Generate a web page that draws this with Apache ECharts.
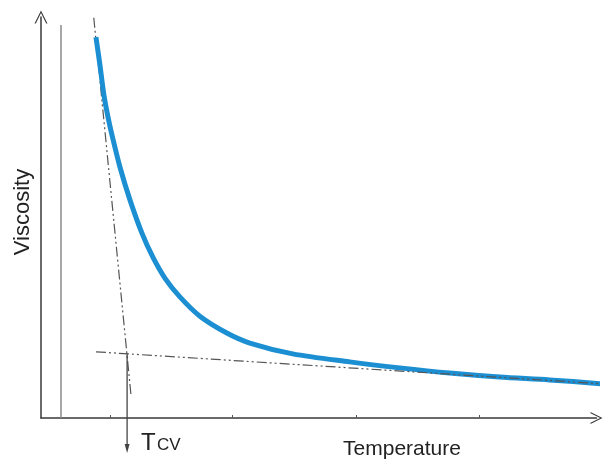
<!DOCTYPE html>
<html>
<head>
<meta charset="utf-8">
<script src="https://cdn.jsdelivr.net/npm/echarts@6/dist/echarts.min.js"></script>
<style>
  html, body { margin: 0; padding: 0; background: #fff; }
  #chart { width: 604px; height: 463px; }
</style>
</head>
<body>
<div id="chart"></div>
<script>
// temperature / viscosity in arbitrary units (0..100 on both axes)
const viscosityCurve = [
  [9.89, 95.0], [10.61, 88.0], [11.33, 80.5], [12.05, 75.1], [12.77, 70.6],
  [14.21, 62.6], [16.01, 54.4], [18.17, 46.1], [20.14, 40.1], [22.3, 34.9],
  [25.0, 30.2], [28.6, 25.4], [33.45, 21.2], [37.59, 18.7], [45.32, 16.0],
  [55.58, 14.0], [64.57, 12.5], [73.56, 11.2], [82.55, 10.2], [91.55, 9.5],
  [101.26, 8.5]
];
const steepTangent = [[9.5, 99.8], [16.2, 5.7]];
const flatTangent = [[9.9, 16.5], [101.3, 8.5]];
const referenceLine = [[3.6, 0], [3.6, 98.0]];
const tcvArrow = [[15.5, 16.0], [15.5, -7.6]];
const xTickValues = [12.4, 34.5, 56.8, 78.9];

const chart = echarts.init(document.getElementById('chart'));

const chevron = 'path://M5,0 L10,10 L9,10 L5,2 L1,10 L0,10 Z';
const dashDot = [10, 3, 2, 3, 2, 3];

chart.setOption({
  animation: false,
  grid: {
    left: 41,
    right: 7.5,
    top: 17,
    bottom: 45,
    containLabel: false,
    outerBoundsMode: 'none'
  },
  xAxis: {
    type: 'value',
    min: 0,
    max: 100,
    splitLine: { show: false },
    axisLabel: { show: false },
    axisLine: {
      show: true,
      symbol: ['none', chevron],
      symbolSize: [12, 13],
      lineStyle: { color: '#3a3a3a', width: 1.5 }
    },
    axisTick: {
      show: true,
      inside: true,
      length: 3,
      customValues: xTickValues,
      lineStyle: { color: '#555', width: 1 }
    }
  },
  yAxis: {
    type: 'value',
    min: 0,
    max: 100,
    splitLine: { show: false },
    axisLabel: { show: false },
    axisTick: { show: false },
    axisLine: {
      show: true,
      symbol: ['none', chevron],
      symbolSize: [13, 21],
      lineStyle: { color: '#3a3a3a', width: 1.5 }
    }
  },
  series: [
    {
      type: 'line',
      data: referenceLine,
      symbol: 'none',
      clip: false,
      lineStyle: { color: '#8a8a8a', width: 1.5 }
    },
    {
      type: 'line',
      data: steepTangent,
      symbol: 'none',
      clip: false,
      lineStyle: { color: '#555', width: 1.2, type: dashDot }
    },
    {
      type: 'line',
      data: viscosityCurve,
      symbol: 'none',
      smooth: 0.3,
      clip: false,
      lineStyle: { color: '#1c8fd2', width: 5 }
    },
    {
      type: 'line',
      data: flatTangent,
      symbol: 'none',
      clip: false,
      lineStyle: { color: '#555', width: 1.2, type: dashDot }
    },
    {
      type: 'line',
      data: [
        { value: tcvArrow[0], symbol: 'none' },
        { value: tcvArrow[1], symbol: 'triangle', symbolRotate: 180, symbolSize: [5, 9] }
      ],
      showSymbol: true,
      clip: false,
      itemStyle: { color: '#444' },
      lineStyle: { color: '#444', width: 1.3 }
    }
  ],
  graphic: [
    {
      type: 'text',
      x: 23,
      y: 212,
      rotation: Math.PI / 2,
      style: {
        text: 'Viscosity',
        font: '22px "Liberation Sans", Arial, sans-serif',
        fill: '#222',
        align: 'center',
        verticalAlign: 'middle'
      }
    },
    {
      type: 'text',
      x: 402,
      y: 449,
      style: {
        text: 'Temperature',
        font: '21px "Liberation Sans", Arial, sans-serif',
        fill: '#222',
        align: 'center',
        verticalAlign: 'middle'
      }
    },
    {
      type: 'text',
      x: 141,
      y: 443,
      style: {
        text: 'T',
        font: '24px "Liberation Sans", Arial, sans-serif',
        fill: '#222',
        align: 'left',
        verticalAlign: 'middle'
      }
    },
    {
      type: 'text',
      x: 157,
      y: 445,
      style: {
        text: 'CV',
        font: '17px "Liberation Sans", Arial, sans-serif',
        fill: '#222',
        align: 'left',
        verticalAlign: 'middle'
      }
    }
  ]
});
</script>
</body>
</html>
